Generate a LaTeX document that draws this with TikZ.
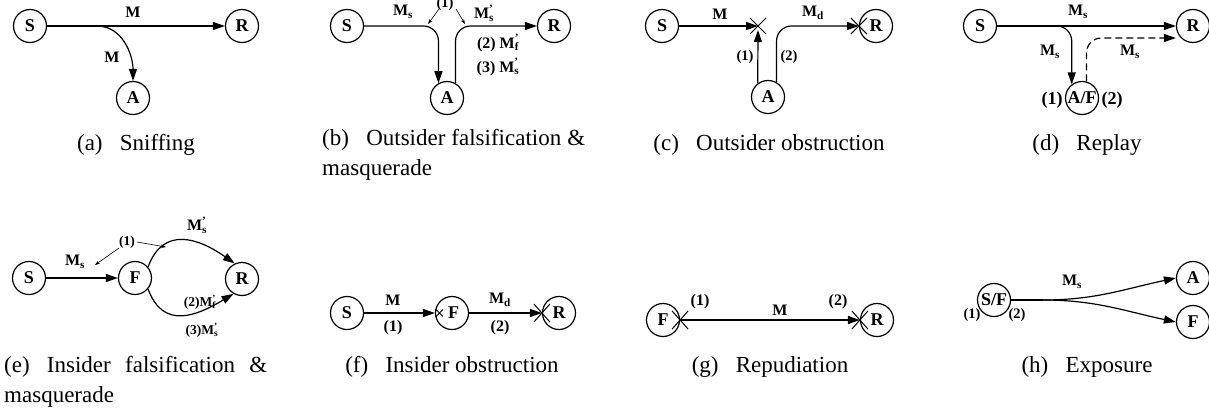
\documentclass[tikz,border=0pt]{standalone}
\usepackage{fontspec}
\setmainfont{Liberation Serif}
\usetikzlibrary{arrows.meta}
\newcommand\Msb[2]{M\rlap{\textsuperscript{#2}}\textsubscript{#1}}
\tikzset{
  nd/.style={circle,draw,line width=1.2pt,minimum size=33pt,inner sep=0pt,font=\fontsize{18pt}{20pt}\selectfont\bfseries},
  lbl/.style={font=\fontsize{16pt}{18pt}\selectfont\bfseries,inner sep=0pt},
  blbl/.style={font=\fontsize{18pt}{20pt}\selectfont\bfseries,inner sep=0pt},
  slbl/.style={font=\fontsize{14.5pt}{16pt}\selectfont\bfseries,inner sep=0pt},
  tlbl/.style={font=\fontsize{13.5pt}{15pt}\selectfont\bfseries,inner sep=0pt},
  captxt/.style={font=\fontsize{23pt}{27pt}\selectfont,inner sep=0pt},
  arr/.style={line width=1.2pt,-{Triangle[length=12pt,width=8pt]}},
  sarr/.style={line width=0.6pt,-{Stealth[length=5pt,width=3.5pt]}},
  xm/.style={line width=1pt},
  dsh/.style={dash pattern=on 7pt off 4pt},
}
\begin{document}
\begin{tikzpicture}[x=1pt,y=-1pt]
\useasboundingbox (0,0) rectangle (1209,416);
% ---------- (a) ----------
\node[nd] (aS) at (30,26) {S};
\node[nd] (aR) at (242,26) {R};
\node[nd] (aA) at (133,98) {A};
\coordinate (aB) at (97,26);
\draw[arr] (aS) -- (aR);
\draw[arr] (aB) to[out=0,in=90] (aA.north);
\node[lbl] (aM1) at (133,12) {M};
\node[lbl] (aM2) at (112,57) {M};
\node[captxt] (capa) at (136,145) {(a)\hspace{0.75em}Sniffing};
% ---------- (b) ----------
\node[nd] (bS) at (347,26) {S};
\node[nd] (bR) at (554,26) {R};
\node[nd] (bA) at (447,98) {A};
\draw[arr,rounded corners=15pt] (bS.east) -| (bA.120);
\draw[arr,rounded corners=15pt] (bA.60) |- (bR.west);
\node[lbl] (bM1) at (403,12) {\Msb{s}{}};
\node[slbl] (b1) at (445,4) {(1)};
\node[lbl] (bM2) at (484,13) {\Msb{s}{’}};
\coordinate (b1a) at (439,9);
\coordinate (b1b) at (428,24);
\coordinate (b1c) at (456,9);
\coordinate (b1d) at (465,24);
\draw[sarr] (b1a) -- (b1b);
\draw[sarr] (b1c) -- (b1d);
\node[lbl] (bM3) at (498,43) {(2) \Msb{f}{’}};
\node[lbl] (bM4) at (498,67) {(3) \Msb{s}{’}};
\node[captxt,anchor=west] (capb) at (322,140) {\makebox[263pt][s]{(b)\hspace{0.75em}Outsider falsification \&}};
\node[captxt,anchor=west] (capb2) at (322,170) {masquerade};
% ---------- (c) ----------
\node[nd] (cS) at (662,26) {S};
\node[nd] (cR) at (876,26) {R};
\node[nd] (cA) at (768,97) {A};
\coordinate (cX) at (758,26);
\coordinate (cXu) at (758,30);
\draw[arr] (cS) -- (cX);
\draw[arr] (cA.127) -- (cXu);
\draw[xm] (cX) ++(-8,-8) -- ++(16,16);
\draw[xm] (cX) ++(-8,8) -- ++(16,-16);
\draw[arr,rounded corners=15pt] (cA.60) |- (cR.west);
\draw[xm] (cR.west) ++(-8,-8) -- ++(16,16);
\draw[xm] (cR.west) ++(-8,8) -- ++(16,-16);
\node[lbl] (cM1) at (720,14) {M};
\node[lbl] (cM2) at (813,13) {\Msb{d}{}};
\node[slbl] (c1) at (745,57) {(1)};
\node[slbl] (c2) at (789,57) {(2)};
\node[captxt] (capc) at (769,145) {(c)\hspace{0.75em}Outsider obstruction};
% ---------- (d) ----------
\node[nd] (dS) at (980,26) {S};
\node[nd] (dR) at (1193,26) {R};
\node[nd] (dAF) at (1082,98) {A/F};
\coordinate (dB) at (1043,26);
\draw[arr] (dS) -- (dR);
\draw[arr,rounded corners=15pt] (dB) -| (dAF.127);
\draw[arr,dsh,rounded corners=15pt] (dAF.75) |- ([yshift=-12pt]dR.west);
\node[lbl] (dM1) at (1078,12) {\Msb{s}{}};
\node[lbl] (dM2) at (1050,52) {\Msb{s}{}};
\node[lbl] (dM3) at (1130,52) {\Msb{s}{}};
\node[blbl] (d1) at (1052,100) {(1)};
\node[blbl] (d2) at (1112,100) {(2)};
\node[captxt] (capd) at (1087,145) {(d)\hspace{0.75em}Replay};
% ---------- (e) ----------
\node[nd] (eS) at (29,278) {S};
\node[nd] (eF) at (135,278) {F};
\node[nd] (eR) at (242,279) {R};
\draw[arr] (eS) -- (eF);
\draw[arr] (eF.40) to[out=70,in=145,looseness=1.3] (eR.115);
\draw[arr] (eF.-40) to[out=-70,in=-149,looseness=1.3] (eR.-120);
\node[lbl] (eM1) at (197,225) {\Msb{s}{’}};
\node[lbl] (eM2) at (75,262) {\Msb{s}{}};
\node[tlbl] (e1) at (127,242) {(1)};
\coordinate (e1a) at (119,248);
\coordinate (e1b) at (95,265);
\coordinate (e1c) at (137,242);
\coordinate (e1d) at (166,247);
\draw[sarr] (e1a) -- (e1b);
\draw[sarr] (e1c) -- (e1d);
\node[tlbl] (eM3) at (200,302) {(2)\Msb{f}{’}};
\node[tlbl] (eM4) at (202,330) {(3)\Msb{s}{’}};
\node[captxt,anchor=west] (cape) at (4,367) {\makebox[263pt][s]{(e)\hspace{0.75em}Insider falsification \&}};
\node[captxt,anchor=west] (cape2) at (4,397) {masquerade};
% ---------- (f) ----------
\node[nd] (fS) at (347,313) {S};
\node[nd] (fF) at (452,313) {\hspace{3pt}F};
\node[nd] (fR) at (559,313) {R};
\draw[arr] (fS) -- (fF);
\draw[line width=0.9pt] (fF.west) ++(1,-3.5) -- ++(7,7);
\draw[line width=0.9pt] (fF.west) ++(1,3.5) -- ++(7,-7);
\draw[arr] (fF) -- (fR);
\draw[xm] (fR.west) ++(-8,-9) -- ++(16,18);
\draw[xm] (fR.west) ++(-8,9) -- ++(16,-18);
\node[lbl] (fM1) at (393,300) {M};
\node[lbl] (f1) at (393,328) {(1)};
\node[lbl] (fM2) at (500,300) {\Msb{d}{}};
\node[lbl] (f2) at (500,328) {(2)};
\node[captxt] (capf) at (452,367) {(f)\hspace{0.75em}Insider obstruction};
% ---------- (g) ----------
\node[nd] (gF) at (663,320) {F};
\node[nd] (gR) at (877,320) {R};
\draw[arr] (gF.east) -- (gR.west);
\draw[xm] (gF.east) ++(-8,-9) -- ++(16,18);
\draw[xm] (gF.east) ++(-8,9) -- ++(16,-18);
\draw[xm] (gR.west) ++(-8,-9) -- ++(16,18);
\draw[xm] (gR.west) ++(-8,9) -- ++(16,-18);
\node[lbl] (g1) at (700,302) {(1)};
\node[lbl] (gM) at (780,310) {M};
\node[lbl] (g2) at (838,302) {(2)};
\node[captxt] (capg) at (770,367) {(g)\hspace{0.75em}Repudiation};
% ---------- (h) ----------
\node[nd] (hSF) at (994,300) {S/F};
\node[nd] (hA) at (1193,278) {A};
\node[nd] (hF) at (1193,322) {F};
\coordinate (hB) at (1043,300);
\draw[line width=1.2pt] (hSF.east) -- (hB);
\draw[arr] (hB) to[out=0,in=192] (hA.west);
\draw[arr] (hB) to[out=0,in=168] (hF.west);
\node[lbl] (hM) at (1072,282) {\Msb{s}{}};
\node[slbl] (h1) at (972,315) {(1)};
\node[slbl] (h2) at (1017,315) {(2)};
\node[captxt] (caph) at (1087,367) {(h)\hspace{0.75em}Exposure};
\end{tikzpicture}
\end{document}
